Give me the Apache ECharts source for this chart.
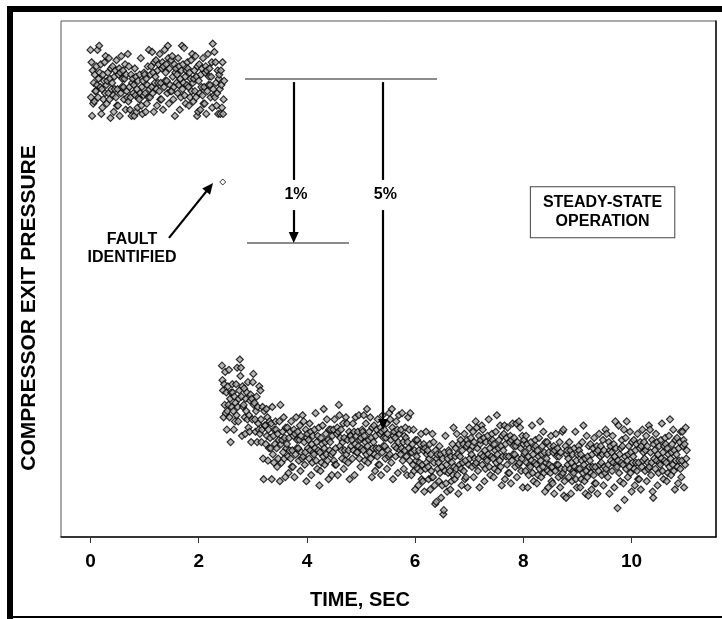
<!DOCTYPE html>
<html>
<head>
<meta charset="utf-8">
<script src="https://cdn.jsdelivr.net/npm/echarts@6/dist/echarts.min.js"></script>
<style>
html,body{margin:0;padding:0;background:#fff;}
#chart{width:722px;height:619px;}
</style>
</head>
<body>
<div id="chart"></div>
<script>
// ---- data (time in s, pressure in arbitrary units) ----
const xTicks = [0, 2, 4, 6, 8, 10];
const sampleStep = 0.01;
const topStart = 0.00;
const topValues = [
236,213,230,204,226,210,220,211,224,216,
216,228,219,236,213,222,238,225,218,229,
205,217,208,224,212,221,230,215,233,219,
210,221,225,215,232,212,222,203,227,217,
220,228,214,206,223,217,226,213,231,209,
217,209,224,227,204,225,215,233,218,222,
226,218,212,222,229,207,224,216,213,234,
211,228,218,207,213,224,204,220,222,215,
219,204,227,214,223,206,217,208,221,213,
212,224,215,232,209,218,205,221,214,225,
224,215,206,222,210,219,228,213,236,217,
213,224,228,218,235,215,225,206,230,220,
223,231,217,209,226,220,229,216,234,212,
220,212,227,230,207,228,218,236,221,225,
229,221,215,238,232,210,227,219,216,231,
216,233,223,212,218,229,204,225,227,220,
224,215,232,219,228,207,222,213,226,238,
217,229,220,237,214,223,210,226,219,230,
227,218,209,225,213,222,231,216,234,220,
211,222,226,216,233,213,223,204,228,206,
221,229,215,207,224,218,227,214,232,210,
218,210,225,228,205,226,216,234,219,223,
227,219,213,223,230,208,239,217,214,235,
213,230,220,209,215,226,205,222,224,217,
205,226,219,208,230,205,212,221
];
const faultPoint = [[2.444, 172]];
const lowerStart = 2.43;
const lowerValues = [
83,76,71,58,74,64,80,60,70,52,
61,73,64,81,58,67,46,70,63,74,
70,61,52,68,56,65,74,59,82,63,
56,67,71,86,78,82,68,49,73,63,
64,72,58,50,67,61,70,57,75,53,
59,51,66,69,46,67,57,75,79,64,
65,57,51,61,68,46,63,55,52,73,
50,71,57,46,52,63,38,28,61,54,
54,45,62,49,58,37,52,43,56,48,
43,55,28,63,40,49,36,52,45,56,
52,43,34,50,38,47,56,27,64,45,
36,47,51,41,58,38,48,29,53,43,
45,53,39,31,48,42,51,38,56,34,
42,34,49,52,29,50,40,58,43,47,
51,43,37,47,54,32,49,41,38,59,
39,56,46,35,41,52,27,48,50,43,
47,38,55,42,51,30,45,36,49,41,
40,52,43,60,37,46,33,49,42,53,
25,41,32,48,36,45,54,39,62,43,
35,46,50,40,57,37,47,28,52,42,
46,52,40,30,49,41,52,37,57,35,
43,35,50,53,30,51,64,59,44,48,
52,42,38,46,55,33,48,42,37,58,
40,55,47,36,42,51,28,49,49,44,
47,38,55,42,51,30,45,58,49,41,
41,51,44,59,38,47,34,48,43,52,
51,42,59,49,37,46,55,40,62,44,
36,47,51,41,58,38,48,29,53,43,
46,54,40,32,49,43,52,39,57,35,
43,35,50,53,30,51,41,59,44,48,
52,44,38,48,55,33,50,42,39,60,
40,57,47,36,62,53,28,49,51,44,
48,39,56,43,52,31,46,59,50,42,
40,52,43,60,37,46,33,49,42,53,
48,39,30,46,58,43,52,37,60,41,
30,41,45,35,52,32,42,23,47,37,
39,47,33,25,42,36,45,32,50,28,
35,27,42,45,22,43,33,51,36,40,
42,34,28,38,45,23,40,32,29,50,
29,46,36,25,16,42,17,38,40,33,
36,27,44,31,40,19,34,25,38,11,
13,41,32,49,26,35,22,38,31,42,
41,32,23,39,27,36,45,30,53,34,
28,39,43,33,50,30,40,21,45,35,
39,47,33,25,42,36,45,32,50,28,
37,29,44,47,24,45,35,53,38,42,
48,40,34,44,51,29,46,38,35,56,
36,53,43,32,38,49,24,45,47,40,
54,35,52,39,48,27,42,33,46,38,
37,49,40,57,34,43,30,46,39,50,
47,38,29,45,33,42,51,36,59,40,
32,43,47,37,54,34,44,25,49,39,
42,50,54,28,45,39,48,35,53,31,
39,31,46,49,26,47,37,55,40,44,
48,40,34,44,55,29,46,38,35,56,
36,53,43,32,38,49,24,45,47,40,
41,32,49,36,45,24,39,30,43,35,
34,46,37,54,31,40,27,43,36,47,
44,35,26,42,30,39,48,33,56,37,
29,40,44,34,51,31,41,22,46,36,
38,46,32,24,41,35,44,31,49,27,
34,26,41,44,21,42,32,50,35,39,
43,35,29,39,46,24,41,33,30,51,
31,52,20,27,33,44,19,40,42,35,
38,29,46,33,42,21,36,27,40,32,
31,43,34,51,28,37,24,40,33,44,
42,33,24,40,28,37,46,31,54,35,
27,38,21,32,49,29,39,20,44,34,
37,45,31,23,40,34,43,30,48,26,
34,26,41,44,21,42,32,50,35,39,
44,36,30,40,47,25,42,34,31,52,
33,50,40,29,35,46,21,42,44,37,
41,32,49,36,45,24,39,56,43,35,
34,14,37,54,31,40,27,43,36,47,
44,35,26,52,18,39,48,33,56,37,
29,40,44,34,51,31,41,22,46,36,
39,47,33,25,42,36,45,32,50,28,
36,28,43,46,23,44,34,52,37,41,
46,38,32,42,49,27,44,36,33,54,
34,52,41,30,36,47,22,19,45,38,
42,33,50,37,46,25,40,31,44,36,
35,47,38,55,32,41,28,44,37,48,
45,36,27,43,31,40,49,34,57,38,
30,41,45,35,52,32,42,23,47,37,
40,48,34,26,43,37,46,33,51,29,
37,51,44,47,24,45,35,53,38,42
];
// annotation geometry in data units [time, pressure]
const levelLine = [[2.856, 221.9], [6.405, 221.9]];
const onePctLine = [[2.893, 142.4], [4.778, 142.4]];
const onePctArrowUpper = [[3.756, 220.4], [3.756, 173]];
const onePctArrowLower = [[3.756, 158.4], [3.756, 145.1]];
const fivePctArrowUpper = [[5.407, 220.4], [5.407, 173]];
const fivePctArrowLower = [[5.407, 158.4], [5.407, 54.5]];
const faultArrow = [[1.451, 144.9], [2.201, 169.4]];
const onePctLabel = [3.798, 165.7];
const fivePctLabel = [5.449, 165.7];
const faultLabel = [0.767, 139.9];
const steadyLabel = [9.464, 157.4];

// ---- build ----
const FONT = '"Liberation Sans", Arial, Helvetica, sans-serif';
const topData = topValues.map((v, i) => [+(topStart + i * sampleStep).toFixed(3), v]);
const lowerData = lowerValues.map((v, i) => [+(lowerStart + i * sampleStep).toFixed(3), v]);

const markerStyle = { color: '#a8a8a8', borderColor: '#000', borderWidth: 1.2 };
const greyLine = { color: '#666', width: 1.5, type: 'solid' };
const blackLine = { color: '#000', width: 2.2, type: 'solid' };

function seg(p, style, arrow) {
  return [
    { coord: p[0], symbol: 'none', lineStyle: style },
    { coord: p[1], symbol: arrow ? 'triangle' : 'none', symbolSize: arrow ? [10, 11] : 0, lineStyle: style }
  ];
}
function txt(c, text, extra) {
  return Object.assign({
    coord: c, symbol: 'rect', symbolSize: 1, itemStyle: { color: 'rgba(0,0,0,0)' },
    label: Object.assign({ show: true, position: 'inside', formatter: text, color: '#000',
      fontFamily: FONT, fontWeight: 'bold', fontSize: 16, lineHeight: 18, align: 'center' }, extra || {})
  });
}

const chart = echarts.init(document.getElementById('chart'), null, { renderer: 'canvas' });
chart.setOption({
  animation: false,
  backgroundColor: '#fff',
  grid: { left: 61, right: 6, top: 21, bottom: 82, show: true, borderColor: '#555', borderWidth: 1 },
  xAxis: {
    type: 'value', min: -0.545, max: 11.56,
    axisLine: { show: true, onZero: false, lineStyle: { color: '#111', width: 1.5 } },
    axisTick: { show: true, customValues: xTicks, length: 6, lineStyle: { color: '#333', width: 1 } },
    axisLabel: { customValues: xTicks, fontFamily: FONT, fontWeight: 'bold', fontSize: 19, color: '#000', margin: 15 },
    splitLine: { show: false }
  },
  yAxis: [
    { type: 'value', min: 0, max: 250, axisLine: { show: false }, axisTick: { show: false }, axisLabel: { show: false }, splitLine: { show: false } },
    { type: 'value', min: 0, max: 250, position: 'right', axisLine: { show: true, lineStyle: { color: '#111', width: 1.5 } }, axisTick: { show: false }, axisLabel: { show: false }, splitLine: { show: false } }
  ],
  series: [
    { type: 'scatter', data: topData, symbol: 'diamond', symbolSize: 7, itemStyle: markerStyle, silent: true },
    { type: 'scatter', data: lowerData, symbol: 'diamond', symbolSize: 7, itemStyle: markerStyle, silent: true },
    {
      type: 'scatter', data: faultPoint, symbol: 'diamond', symbolSize: 6, itemStyle: { color: '#fff', borderColor: '#000', borderWidth: 1 }, silent: true,
      markLine: {
        silent: true, animation: false, symbol: 'none', label: { show: false }, emphasis: { disabled: true },
        data: [
          seg(levelLine, greyLine, false),
          seg(onePctLine, greyLine, false),
          seg(onePctArrowUpper, blackLine, false),
          seg(onePctArrowLower, blackLine, true),
          seg(fivePctArrowUpper, blackLine, false),
          seg(fivePctArrowLower, blackLine, true),
          seg(faultArrow, blackLine, true)
        ]
      },
      markPoint: {
        silent: true, animation: false,
        data: [
          txt(onePctLabel, '1%'),
          txt(fivePctLabel, '5%'),
          txt(faultLabel, 'FAULT\nIDENTIFIED'),
          txt(steadyLabel, 'STEADY-STATE\nOPERATION', { lineHeight: 19, borderColor: '#444', borderWidth: 1, padding: [6, 12, 6, 12], backgroundColor: '#fff' })
        ]
      }
    }
  ],
  graphic: [
    { type: 'rect', shape: { x: 7, y: 6, width: 715, height: 6 }, style: { fill: '#000' }, silent: true },
    { type: 'rect', shape: { x: 7, y: 6, width: 6, height: 613 }, style: { fill: '#000' }, silent: true },
    { type: 'rect', shape: { x: 7, y: 616, width: 715, height: 2 }, style: { fill: '#000' }, silent: true },
    { type: 'text', x: 360, y: 600, silent: true,
      style: { text: 'TIME, SEC', font: 'bold 20px ' + FONT, fill: '#000', align: 'center', verticalAlign: 'middle' } },
    { type: 'text', x: 29, y: 308, rotation: Math.PI / 2, silent: true,
      style: { text: 'COMPRESSOR EXIT PRESSURE', font: 'bold 21px ' + FONT, fill: '#000', align: 'center', verticalAlign: 'middle' } }
  ]
});
</script>
</body>
</html>
